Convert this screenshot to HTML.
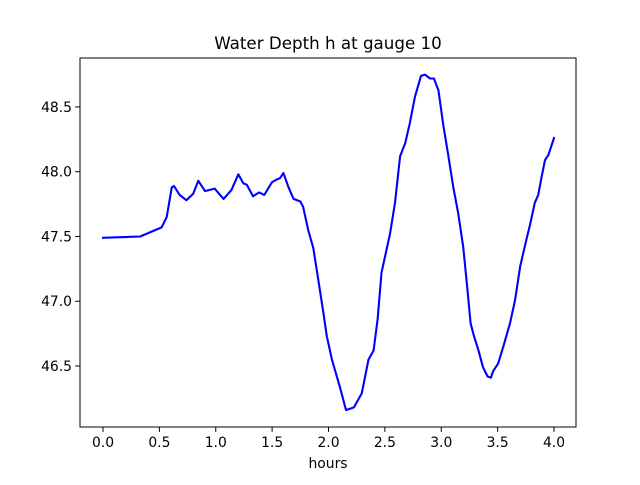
<!DOCTYPE html>
<html><head><meta charset="utf-8"><style>
body{margin:0;background:#fff}
svg text{font-family:"DejaVu Sans","Liberation Sans",sans-serif;fill:#000}
</style></head><body>
<svg id="chart" width="640" height="480" xmlns="http://www.w3.org/2000/svg">
<rect width="640" height="480" fill="#fff"/>
<text x="328" y="49" text-anchor="middle" font-size="16.7">Water Depth h at gauge 10</text>
<g id="plot"></g>
<rect x="80" y="58" width="496" height="369" fill="none" stroke="#000" stroke-width="1"/>
<text x="328" y="468" text-anchor="middle" font-size="13.9">hours</text>
</svg>
<script>
const hours=[0,0.33,0.52,0.565,0.61,0.63,0.68,0.74,0.80,0.845,0.905,0.99,1.07,1.14,1.20,1.245,1.275,1.33,1.385,1.43,1.50,1.54,1.57,1.60,1.645,1.69,1.75,1.775,1.82,1.865,1.91,1.955,1.985,2.03,2.10,2.155,2.19,2.225,2.295,2.355,2.40,2.435,2.47,2.50,2.545,2.59,2.635,2.68,2.72,2.767,2.82,2.855,2.90,2.935,2.975,3.02,3.06,3.107,3.15,3.195,3.23,3.26,3.29,3.33,3.37,3.41,3.44,3.46,3.505,3.55,3.61,3.655,3.70,3.74,3.79,3.83,3.86,3.89,3.92,3.95,4.0];
const depth=[47.49,47.50,47.57,47.65,47.88,47.89,47.82,47.78,47.83,47.93,47.85,47.87,47.79,47.86,47.98,47.91,47.90,47.81,47.84,47.82,47.92,47.94,47.95,47.99,47.88,47.79,47.77,47.73,47.55,47.41,47.16,46.91,46.73,46.55,46.34,46.16,46.17,46.18,46.29,46.55,46.62,46.86,47.22,47.34,47.52,47.76,48.12,48.22,48.37,48.58,48.74,48.75,48.72,48.72,48.63,48.35,48.14,47.88,47.68,47.42,47.11,46.83,46.73,46.62,46.49,46.42,46.41,46.46,46.52,46.65,46.83,47.01,47.27,47.42,47.60,47.76,47.82,47.96,48.09,48.13,48.26];
const xTicks=[0,0.5,1,1.5,2,2.5,3,3.5,4];
const xTickLabels=["0.0","0.5","1.0","1.5","2.0","2.5","3.0","3.5","4.0"];
const yTicks=[46.5,47,47.5,48,48.5];
const yTickLabels=["46.5","47.0","47.5","48.0","48.5"];
const NS="http://www.w3.org/2000/svg";
const X0=80,X1=576,Y0=58,Y1=427;
const xMin=-0.204,xMax=4.195,yMin=46.029,yMax=48.878;
function sx(v){return X0+(v-xMin)/(xMax-xMin)*(X1-X0);}
function sy(v){return Y1-(v-yMin)/(yMax-yMin)*(Y1-Y0);}
const g=document.getElementById('plot');
function mk(tag,attrs){const e=document.createElementNS(NS,tag);for(const k in attrs)e.setAttribute(k,attrs[k]);g.appendChild(e);return e;}
xTicks.forEach((t,i)=>{
  const l=mk('line',{x1:sx(t),x2:sx(t),y1:Y1,y2:Y1+4.9,stroke:'#000','stroke-width':1});
  
  
  const tx=mk('text',{x:sx(t),y:Y1+20,'text-anchor':'middle','font-size':13.9});
  tx.textContent=xTickLabels[i];
  
  
});
yTicks.forEach((t,i)=>{
  const l=mk('line',{x1:X0-4.9,x2:X0,y1:sy(t),y2:sy(t),stroke:'#000','stroke-width':1});
  
  
  const tx=mk('text',{x:X0-8,y:sy(t)+5,'text-anchor':'end','font-size':13.9});
  tx.textContent=yTickLabels[i];
  
  
});
const pts=hours.map((h,i)=>sx(h).toFixed(1)+','+sy(depth[i]).toFixed(1)).join(' ');
const pl=mk('polyline',{points:pts,fill:'none',stroke:'#0000ff','stroke-width':2.1,'stroke-linejoin':'round','stroke-linecap':'square'});


</script>
</body></html>
